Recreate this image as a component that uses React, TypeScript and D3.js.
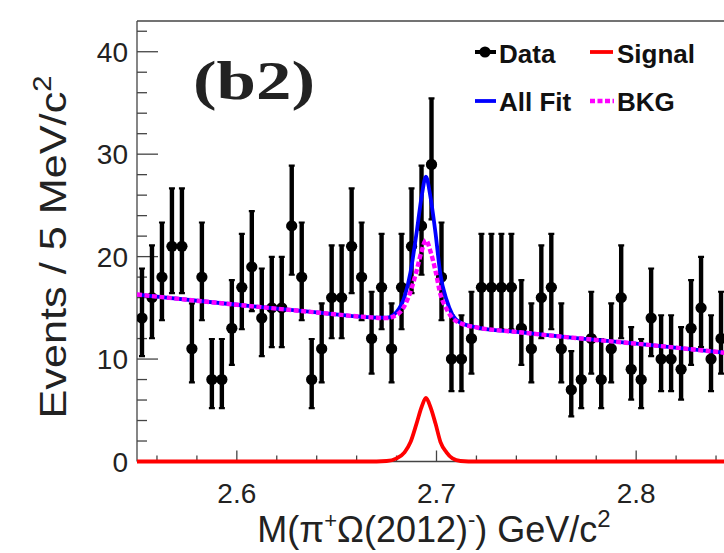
import React from 'react';
import * as d3 from 'd3';

// ---- data ----
const binLow = 2.55;
const binWidth = 0.005;
const counts = [
  14, 16, 18, 21, 21, 11, 18, 8, 8, 13,
  17, 19, 14, 15, 15, 23, 18, 8, 11, 16,
  16, 21, 18, 12, 17, 11, 17, 21, 23, 29,
  18, 10, 10, 12, 17, 17, 17, 17, 13, 11,
  16, 17, 11, 7, 8, 12, 8, 11, 16, 9,
  8, 14, 10, 10, 9, 13, 15, 10, 12,
];

const fitX = [2.55, 2.6, 2.64, 2.665, 2.675, 2.68, 2.684, 2.687, 2.69, 2.6925, 2.6947, 2.697, 2.6995, 2.702, 2.705, 2.708, 2.712, 2.72, 2.74, 2.77, 2.8, 2.85];
const bkgY = [16.3, 15.3, 14.55, 14.1, 14.0, 14.3, 15.2, 16.6, 18.6, 20.5, 21.6, 20.5, 18.6, 16.3, 14.9, 14.0, 13.5, 13.1, 12.65, 12.05, 11.5, 10.5];
const signalY = [0, 0, 0, 0, 0.05, 0.3, 0.9, 1.9, 3.7, 5.3, 6.2, 5.3, 3.7, 1.9, 0.9, 0.3, 0.05, 0, 0, 0, 0, 0];
const allFitY = [16.3, 15.3, 14.55, 14.1, 14.05, 14.6, 16.1, 18.5, 22.3, 25.8, 27.8, 25.8, 22.3, 18.2, 15.8, 14.3, 13.55, 13.1, 12.65, 12.05, 11.5, 10.5];

const xMajorTicks = [2.6, 2.7, 2.8];
const xTickLabels = ['2.6', '2.7', '2.8'];
const xMinorTicks = [2.56, 2.58, 2.62, 2.64, 2.66, 2.68, 2.72, 2.74, 2.76, 2.78, 2.82, 2.84];
const yMajorTicks = [0, 10, 20, 30, 40];
const yTickLabels = ['0', '10', '20', '30', '40'];
const yMinorTicks = [2, 4, 6, 8, 12, 14, 16, 18, 22, 24, 26, 28, 32, 34, 36, 38, 42];

const legendItems = ['Data', 'Signal', 'All Fit', 'BKG'];

const W = 724;
const H = 553;
const FONT = 'Liberation Sans, Arial, Helvetica, sans-serif';

export default function App() {
  const x = d3.scaleLinear().domain([2.55, 2.85]).range([137, 736]);
  const y = d3.scaleLinear().domain([0, 43]).range([461.5, 21]);
  const left = x(2.55);
  const top = y(43);
  const bottom = y(0);

  const pts = counts.map((n, i) => {
    const xc = binLow + (i + 0.5) * binWidth;
    const up = Math.sqrt(n + 0.75) + 1;
    const dn = Math.sqrt(Math.max(n - 0.25, 0));
    return { xc, n, up, dn };
  });

  const line = (ys: number[]) =>
    d3
      .line<number>()
      .x((_, i) => x(fitX[i]))
      .y((v) => y(v))
      .curve(d3.curveMonotoneX)(ys) || '';

  return (
    <div style={{ position: 'absolute', left: 0, top: 0 }}>
      <svg width={W} height={H} style={{ display: 'block', background: '#fff' }}>
        <defs>
          <clipPath id="plot">
            <rect x={left} y={top} width={W - left} height={bottom - top + 4} />
          </clipPath>
        </defs>

        {/* frame */}
        <line x1={left} x2={W} y1={top} y2={top} stroke="#444" strokeWidth={1.3} />
        <line x1={left} x2={left} y1={top} y2={bottom} stroke="#444" strokeWidth={1.3} />
        <line x1={left} x2={W} y1={bottom} y2={bottom} stroke="#444" strokeWidth={1.3} />

        {/* y ticks */}
        {yMajorTicks.map((t) => (
          <line key={'ym' + t} x1={left} x2={left + 21} y1={y(t)} y2={y(t)} stroke="#444" strokeWidth={1.3} />
        ))}
        {yMinorTicks.map((t) => (
          <line key={'yn' + t} x1={left} x2={left + 10} y1={y(t)} y2={y(t)} stroke="#444" strokeWidth={1.3} />
        ))}
        {yMajorTicks.map((t, i) => (
          <text key={'yl' + t} x={128} y={y(t) + 10} textAnchor="end" fontFamily={FONT} fontSize={28} fill="#222">
            {yTickLabels[i]}
          </text>
        ))}

        {/* x ticks */}
        {xMajorTicks.map((t) => (
          <line key={'xm' + t} x1={x(t)} x2={x(t)} y1={bottom} y2={bottom - 11} stroke="#444" strokeWidth={1.3} />
        ))}
        {xMinorTicks.map((t) => (
          <line key={'xn' + t} x1={x(t)} x2={x(t)} y1={bottom} y2={bottom - 6} stroke="#444" strokeWidth={1.3} />
        ))}
        {xMajorTicks.map((t, i) => (
          <text key={'xl' + t} x={x(t)} y={503} textAnchor="middle" fontFamily={FONT} fontSize={28} fill="#222">
            {xTickLabels[i]}
          </text>
        ))}

        {/* axis titles */}
        <text
          transform={`translate(66, 247) rotate(-90)`}
          textAnchor="middle"
          fontFamily={FONT}
          fontSize={37}
          fill="#222"
          textLength={343}
          lengthAdjust="spacingAndGlyphs"
        >
          Events / 5 MeV/c<tspan dy={-15} fontSize={25}>2</tspan>
        </text>
        <text x={434} y={542} textAnchor="middle" fontFamily={FONT} fontSize={36} fill="#222">
          M(π<tspan dy={-14} fontSize={22}>+</tspan>
          <tspan dy={14}>Ω(2012)</tspan>
          <tspan dy={-15} fontSize={22}>-</tspan>
          <tspan dy={15}>) GeV/c</tspan>
          <tspan dy={-15} fontSize={24}>2</tspan>
        </text>

        {/* label */}
        <text
          x={193}
          y={99}
          fontFamily="Liberation Serif, Times New Roman, serif"
          fontWeight="bold"
          fontSize={54}
          fill="#222"
          textLength={122}
          lengthAdjust="spacingAndGlyphs"
        >
          (b2)
        </text>

        {/* data */}
        <g clipPath="url(#plot)">
          {pts.map((p, i) => {
            const cx = x(p.xc);
            const yt = y(p.n + p.up);
            const yb = y(p.n - p.dn);
            return (
              <g key={'d' + i}>
                <line x1={cx} x2={cx} y1={yt} y2={yb} stroke="#000" strokeWidth={4.4} />
                <line x1={cx - 3} x2={cx + 3} y1={yt} y2={yt} stroke="#000" strokeWidth={2.2} />
                <line x1={cx - 3} x2={cx + 3} y1={yb} y2={yb} stroke="#000" strokeWidth={2.2} />
                <line x1={x(p.xc - binWidth / 2)} x2={x(p.xc + binWidth / 2)} y1={y(p.n)} y2={y(p.n)} stroke="#000" strokeWidth={4} />
                <circle cx={cx} cy={y(p.n)} r={5.6} fill="#000" />
              </g>
            );
          })}

          {/* fits */}
          <path d={line(allFitY)} fill="none" stroke="#0000ff" strokeWidth={3.8} />
          <path d={line(signalY)} fill="none" stroke="#ff0000" strokeWidth={3.8} />
          <path d={line(bkgY)} fill="none" stroke="#ff00ff" strokeWidth={4.4} strokeDasharray="5 2.5" />
        </g>

        {/* legend */}
        <line x1={475} x2={496} y1={52} y2={52} stroke="#000" strokeWidth={4} />
        <circle cx={485} cy={52} r={5.6} fill="#000" />
        <text x={499} y={63} fontFamily={FONT} fontWeight="bold" fontSize={26} fill="#111">{legendItems[0]}</text>
        <line x1={590} x2={613} y1={52} y2={52} stroke="#ff0000" strokeWidth={3.8} />
        <text x={617} y={63} fontFamily={FONT} fontWeight="bold" fontSize={26} fill="#111">{legendItems[1]}</text>
        <line x1={475} x2={496} y1={101} y2={101} stroke="#0000ff" strokeWidth={3.8} />
        <text x={499} y={111} fontFamily={FONT} fontWeight="bold" fontSize={26} fill="#111">{legendItems[2]}</text>
        <line x1={590} x2={614} y1={101} y2={101} stroke="#ff00ff" strokeWidth={4.4} strokeDasharray="5 2.5" />
        <text x={617} y={111} fontFamily={FONT} fontWeight="bold" fontSize={26} fill="#111">{legendItems[3]}</text>
      </svg>
    </div>
  );
}
